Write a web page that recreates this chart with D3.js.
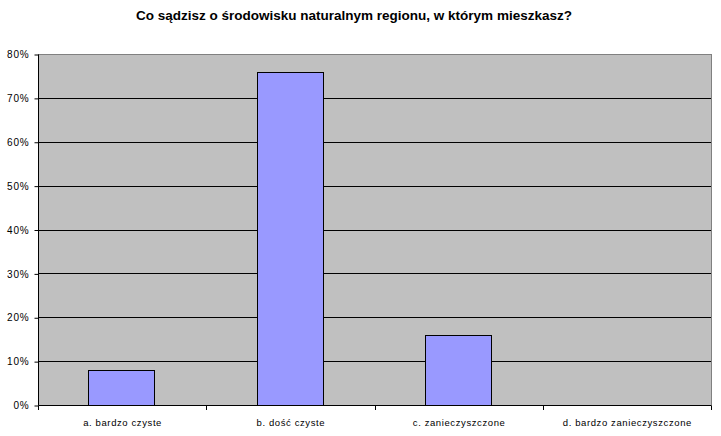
<!DOCTYPE html>
<html><head><meta charset="utf-8">
<script src="https://cdnjs.cloudflare.com/ajax/libs/d3/7.8.5/d3.min.js"></script>
<style>body{margin:0;background:#fff}svg{display:block}</style>
</head><body>
<script>
const categories = ["a. bardzo czyste", "b. dość czyste", "c. zanieczyszczone", "d. bardzo zanieczyszczone"];
const values = [0.08, 0.76, 0.16, 0];
const yTicks = [0, 0.1, 0.2, 0.3, 0.4, 0.5, 0.6, 0.7, 0.8];
const title = "Co sądzisz o środowisku naturalnym regionu, w którym mieszkasz?";

const W = 721, H = 436;
const m = {left: 38, right: 10, top: 54, bottom: 31};
const svg = d3.select("body").append("svg").attr("width", W).attr("height", H)
  .style("font-family", "Arial, 'Liberation Sans', sans-serif");

const x = d3.scaleBand().domain(categories).range([m.left, W - m.right]).paddingInner(0.61).paddingOuter(0.305);
const y = d3.scaleLinear().domain([0, 0.8]).range([H - m.bottom, m.top]);

svg.append("rect").attr("x", m.left + 0.5).attr("y", m.top + 0.5)
  .attr("width", W - m.right - m.left).attr("height", H - m.bottom - m.top)
  .attr("fill", "#c0c0c0").attr("stroke", "#808080").attr("stroke-width", 1)
  .attr("shape-rendering", "crispEdges");

// gridlines
svg.append("g").selectAll("line").data(yTicks.filter(d => d > 0 && d < 0.8)).join("line")
  .attr("x1", m.left).attr("x2", W - m.right)
  .attr("y1", d => Math.round(y(d)) + 0.5).attr("y2", d => Math.round(y(d)) + 0.5)
  .attr("stroke", "#000").attr("shape-rendering", "crispEdges");

// bars
svg.append("g").selectAll("rect").data(values.map((v, i) => ({c: categories[i], v}))).join("rect")
  .attr("x", d => Math.round(x(d.c)) - 0.5)
  .attr("y", d => Math.round(y(d.v)) + 0.5)
  .attr("width", Math.round(x.bandwidth()))
  .attr("height", d => Math.round(y(0)) - Math.round(y(d.v)))
  .attr("fill", "#9999ff").attr("stroke", d => d.v > 0 ? "#000" : "none")
  .attr("shape-rendering", "crispEdges");

// y axis
const yAxis = d3.axisLeft(y).tickValues(yTicks).tickFormat(d => Math.round(d * 100) + "%").tickSize(4).tickPadding(5);
const gy = svg.append("g").attr("transform", `translate(${m.left + 0.5},0.5)`).call(yAxis);
gy.select(".domain").attr("d", `M0,${m.top}V${H - m.bottom}`).attr("stroke", "#000");
gy.selectAll("line").attr("stroke", "#000");
gy.selectAll("text").attr("font-size", 10).attr("letter-spacing", 0.8).attr("fill", "#000")
  .attr("font-family", "Arial, 'Liberation Sans', sans-serif");

// x axis
const xb = d3.scaleLinear().domain([0, categories.length]).range([m.left, W - m.right]);
const gx = svg.append("g").attr("transform", `translate(0.5,${H - m.bottom + 0.5})`);
gx.append("line").attr("x1", m.left).attr("x2", W - m.right).attr("stroke", "#000");
gx.selectAll(".tk").data(d3.range(categories.length + 1)).join("line").attr("class", "tk")
  .attr("x1", d => Math.round(xb(d))).attr("x2", d => Math.round(xb(d)))
  .attr("y1", 0).attr("y2", 4).attr("stroke", "#000").attr("shape-rendering", "crispEdges");
gx.selectAll("text").data(categories).join("text")
  .attr("x", d => x(d) + x.bandwidth() / 2).attr("y", 20)
  .attr("text-anchor", "middle").attr("font-size", 9.5).attr("letter-spacing", 0.6).attr("fill", "#000")
  .text(d => d);

svg.append("text").attr("x", 354).attr("y", 20).attr("text-anchor", "middle")
  .attr("font-size", 13.5).attr("font-weight", "bold").attr("fill", "#000").text(title);
</script>
</body></html>
